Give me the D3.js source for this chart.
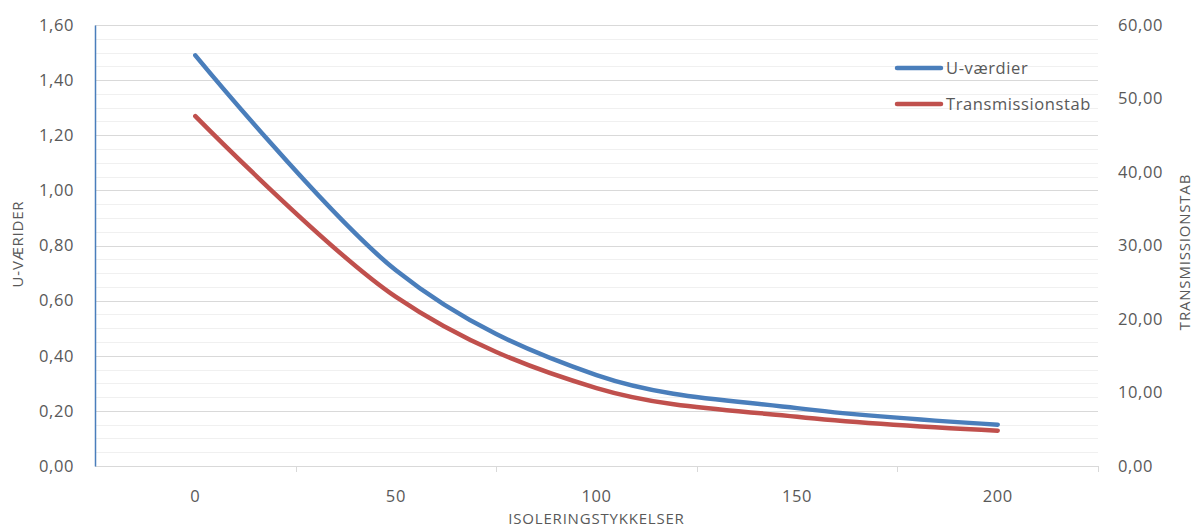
<!DOCTYPE html>
<html>
<head>
<meta charset="utf-8">
<script src="https://cdn.jsdelivr.net/npm/d3@7"></script>
<style>
  body { margin: 0; background: #fff; }
  svg text { font-family: "Open Sans", sans-serif; fill: #595959; }
</style>
</head>
<body>
<div id="wrapper"></div>
<script>
// data
const thickness = ["0", "50", "100", "150", "200"]
const uValues = [1.49, 0.71, 0.33, 0.21, 0.15]
const transmission = [47.6, 23.0, 10.6, 6.7, 4.8]
const leftTicks = [0, 0.2, 0.4, 0.6, 0.8, 1.0, 1.2, 1.4, 1.6]
const rightTicks = [0, 10, 20, 30, 40, 50, 60]

const fmt2 = d => d3.format(".2f")(d).replace(".", ",")

const dimensions = {
    width: 1200,
    height: 530,
    margin: { top: 25, right: 102, bottom: 64, left: 95 },
}
dimensions.boundedWidth = dimensions.width - dimensions.margin.left - dimensions.margin.right
dimensions.boundedHeight = dimensions.height - dimensions.margin.top - dimensions.margin.bottom

const svg = d3.select("#wrapper").append("svg")
    .attr("width", dimensions.width)
    .attr("height", dimensions.height)

const bounds = svg.append("g")
    .attr("transform", `translate(${dimensions.margin.left},${dimensions.margin.top})`)

// scales
const xScale = d3.scaleBand()
    .domain(thickness)
    .range([0, dimensions.boundedWidth])
    .padding(0)

const yLeft = d3.scaleLinear()
    .domain([0, 1.6])
    .range([dimensions.boundedHeight, 0])

const yRight = d3.scaleLinear()
    .domain([0, 60])
    .range([dimensions.boundedHeight, 0])

// gridlines: minor then major
bounds.append("g").selectAll("line")
    .data(yLeft.ticks(40))
    .join("line")
    .attr("x1", 0).attr("x2", dimensions.boundedWidth)
    .attr("y1", d => Math.round(yLeft(d)) + 0.5)
    .attr("y2", d => Math.round(yLeft(d)) + 0.5)
    .attr("stroke", "#f0f0f0")

bounds.append("g").selectAll("line")
    .data(leftTicks)
    .join("line")
    .attr("x1", 0).attr("x2", dimensions.boundedWidth)
    .attr("y1", d => Math.round(yLeft(d)) + 0.5)
    .attr("y2", d => Math.round(yLeft(d)) + 0.5)
    .attr("stroke", "#d9d9d9")

const styleTicks = sel => sel.selectAll(".tick text")
    .attr("font-size", 16.5)
    .attr("fill", "#595959")
    .style("font-family", "'Open Sans', sans-serif")
    .style("letter-spacing", "0.6px")

// x axis
const xAxis = bounds.append("g")
    .attr("transform", `translate(0,${dimensions.boundedHeight})`)
    .call(d3.axisBottom(xScale).tickSize(0).tickPadding(24))
xAxis.select(".domain").attr("stroke", "#d9d9d9")
styleTicks(xAxis)

const boundaries = thickness.slice(1).map(d => xScale(d)).concat([dimensions.boundedWidth])
xAxis.selectAll(".bound-tick")
    .data(boundaries)
    .join("line")
    .attr("class", "bound-tick")
    .attr("x1", d => Math.round(d) + 0.5).attr("x2", d => Math.round(d) + 0.5)
    .attr("y1", 0).attr("y2", 6)
    .attr("stroke", "#d9d9d9")

// left axis
const leftAxis = bounds.append("g")
    .call(d3.axisLeft(yLeft).tickValues(leftTicks).tickFormat(fmt2).tickSize(0).tickPadding(21))
leftAxis.select(".domain").attr("stroke", "#4a7ebb").attr("stroke-width", 1.5)
styleTicks(leftAxis)

// right axis
const rightAxis = bounds.append("g")
    .attr("transform", `translate(${dimensions.boundedWidth},0)`)
    .call(d3.axisRight(yRight).tickValues(rightTicks).tickFormat(fmt2).tickSize(0).tickPadding(20))
rightAxis.select(".domain").remove()
styleTicks(rightAxis)

// lines
const cx = d => xScale(d) + xScale.bandwidth() / 2
const uLine = d3.line()
    .x((d, i) => cx(thickness[i]))
    .y(d => yLeft(d))
    .curve(d3.curveCardinal.tension(0))
const tLine = d3.line()
    .x((d, i) => cx(thickness[i]))
    .y(d => yRight(d))
    .curve(d3.curveCardinal.tension(0))

bounds.append("path")
    .attr("d", tLine(transmission))
    .attr("fill", "none")
    .attr("stroke", "#c0504d")
    .attr("stroke-width", 4.5)
    .attr("stroke-linecap", "round")

bounds.append("path")
    .attr("d", uLine(uValues))
    .attr("fill", "none")
    .attr("stroke", "#4a7ebb")
    .attr("stroke-width", 4.5)
    .attr("stroke-linecap", "round")

// axis titles
const titleStyle = sel => sel
    .attr("text-anchor", "middle")
    .attr("font-size", 15)
    .style("letter-spacing", "0.8px")

svg.append("text")
    .attr("x", dimensions.margin.left + dimensions.boundedWidth / 2)
    .attr("y", 524)
    .call(titleStyle)
    .text("ISOLERINGSTYKKELSER")

svg.append("text")
    .attr("transform", `translate(23,244) rotate(-90)`)
    .call(titleStyle)
    .text("U-VÆRIDER")

svg.append("text")
    .attr("transform", `translate(1190,252) rotate(-90)`)
    .call(titleStyle)
    .text("TRANSMISSIONSTAB")

// legend
const legendItems = [
    { name: "U-værdier", color: "#4a7ebb" },
    { name: "Transmissionstab", color: "#c0504d" },
]
const legend = svg.append("g")
    .attr("transform", "translate(897,68)")
legend.selectAll("line")
    .data(legendItems)
    .join("line")
    .attr("x1", 0).attr("x2", 44)
    .attr("y1", (d, i) => i * 36).attr("y2", (d, i) => i * 36)
    .attr("stroke", d => d.color)
    .attr("stroke-width", 4.5)
    .attr("stroke-linecap", "round")
legend.selectAll("text")
    .data(legendItems)
    .join("text")
    .attr("x", 49)
    .attr("y", (d, i) => i * 36 + 6)
    .attr("font-size", 16.5)
    .style("letter-spacing", "0.6px")
    .text(d => d.name)
</script>
</body>
</html>
